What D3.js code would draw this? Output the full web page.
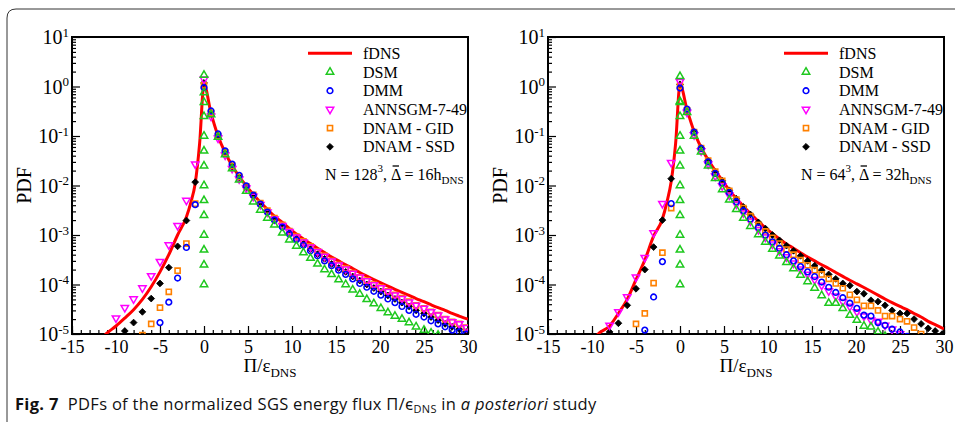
<!DOCTYPE html>
<html><head><meta charset="utf-8">
<script src="https://cdn.jsdelivr.net/npm/d3@7"></script>
<style>body{margin:0;background:#fff}svg{display:block}text{white-space:pre}</style>
</head><body>
<svg id="c" width="955" height="422"></svg>
<script>
// ---------- DATA ----------
const xNeg = [-1,-2,-3,-4,-5,-6,-7,-8,-9,-10];
const xPos = [0,0.8,1.6,2.4,3.2,4.0,4.8,5.6,6.4,7.2,8.0,8.9,9.7,10.5,11.3,12.1,12.9,13.7,14.5,15.3,16.1,16.9,17.7,18.5,19.3,20.1,20.9,21.7,22.5,23.3,24.1,25.0,25.8,26.6,27.4,28.2,29.0,29.8];
const xTicks = [-15,-10,-5,0,5,10,15,20,25,30];
const yTicks = [1e-5,1e-4,1e-3,1e-2,1e-1,1,10];
const legendLabels = ["fDNS","DSM","DMM","ANNSGM-7-49","DNAM - GID","DNAM - SSD"];

// Panel A: N=128^3
const fdnsA_x = [-12,-11,-10,-9,-8,-7,-6,-5,-4,-3,-2,-1.5,-1,-0.5,0,0.8,1.6,2.4,3.2,4.0,4.8,5.6,6.4,7.2,8.0,8.9,9.7,10.5,11.3,12.1,12.9,13.7,14.5,15.3,16.1,16.9,17.7,18.5,19.3,20.1,20.9,21.7,22.5,23.3,24.1,25.0,25.8,26.6,27.4,28.2,29.0,29.8,30];
const fdnsA_y = [7e-6,1.05e-5,1.45e-5,2.1e-5,3.1e-5,5.0e-5,9.0e-5,1.8e-4,4.0e-4,1.0e-3,2.3e-3,4.5e-3,0.011,0.07,1.1,0.29,0.10,0.046,0.025,0.0152,0.0098,0.0066,0.0046,0.0033,0.0024,0.0018,0.00135,1.05e-3,8.3e-4,6.7e-4,5.4e-4,4.4e-4,3.6e-4,3.0e-4,2.5e-4,2.1e-4,1.75e-4,1.48e-4,1.26e-4,1.08e-4,9.3e-5,8.0e-5,6.9e-5,6.0e-5,5.2e-5,4.5e-5,3.9e-5,3.4e-5,3.0e-5,2.6e-5,2.3e-5,2.05e-5,2.0e-5];
const dsmA_zero = [1.7,0.75,0.48,0.25,0.1,0.05,0.025,0.01,0.005,0.0025,0.001,5e-4,2.5e-4,1e-4];
const dsmA_pos = [null,0.27,0.095,0.042,0.022,0.013,0.0077,0.0047,0.0032,0.0022,0.0016,0.0011,8.0e-4,6.0e-4,4.4e-4,3.4e-4,2.6e-4,2.0e-4,1.6e-4,1.25e-4,1.0e-4,7.8e-5,6.4e-5,5.0e-5,4.1e-5,3.3e-5,2.7e-5,2.3e-5,2.0e-5,1.7e-5,1.4e-5,1.2e-5,1.05e-5,9.5e-6,null,null,null,null];
const dmmA_neg = [0.0041,5.6e-4,1.35e-4,4.4e-5,1.7e-5,null,null,null,null,null];
const dmmA_pos = [0.95,0.32,0.11,0.05,0.027,0.016,0.0098,0.0064,0.0042,0.0029,0.0020,0.00145,0.00105,8.0e-4,6.2e-4,4.8e-4,3.8e-4,3.0e-4,2.4e-4,1.95e-4,1.6e-4,1.3e-4,1.05e-4,8.8e-5,7.3e-5,6.1e-5,5.1e-5,4.3e-5,3.6e-5,3.0e-5,2.5e-5,2.2e-5,1.85e-5,1.6e-5,1.4e-5,1.2e-5,1.1e-5,1.0e-5];
const annA_neg = [0.027,0.005,0.00155,6.3e-4,2.9e-4,1.5e-4,8.5e-5,5.1e-5,3.4e-5,2.1e-5];
const annA_pos = [1.4,0.25,0.09,0.041,0.022,0.0135,0.0088,0.006,0.0041,0.0029,0.0021,0.00155,0.00117,9.0e-4,7.2e-4,5.7e-4,4.6e-4,3.7e-4,2.95e-4,2.45e-4,2.05e-4,1.68e-4,1.4e-4,1.18e-4,9.8e-5,8.5e-5,7.2e-5,6.1e-5,5.2e-5,4.4e-5,3.8e-5,3.3e-5,2.8e-5,2.4e-5,2.0e-5,1.75e-5,1.6e-5,1.35e-5];
const gidA_neg = [0.0043,6.7e-4,1.9e-4,7.1e-5,3.4e-5,1.6e-5,9.5e-6,null,null,null];
const gidA_pos = [1.05,0.29,0.10,0.046,0.025,0.015,0.0096,0.0065,0.0044,0.0031,0.0022,0.0016,0.0012,9.3e-4,7.4e-4,5.9e-4,4.7e-4,3.8e-4,3.0e-4,2.5e-4,2.1e-4,1.7e-4,1.4e-4,1.2e-4,1.0e-4,8.7e-5,7.3e-5,6.2e-5,5.3e-5,4.5e-5,3.8e-5,3.3e-5,2.8e-5,2.4e-5,2.0e-5,1.75e-5,1.6e-5,1.35e-5];
const ssdA_neg = [0.0117,0.00196,5.9e-4,2.2e-4,1.05e-4,5.2e-5,2.8e-5,1.7e-5,1.15e-5,null];
const ssdA_pos = [1.18,0.28,0.10,0.045,0.024,0.0145,0.0092,0.0062,0.0042,0.0029,0.0021,0.0015,0.0011,8.4e-4,6.6e-4,5.2e-4,4.1e-4,3.3e-4,2.6e-4,2.15e-4,1.8e-4,1.45e-4,1.2e-4,1.0e-4,8.5e-5,7.2e-5,6.0e-5,5.1e-5,4.3e-5,3.6e-5,3.0e-5,2.6e-5,2.2e-5,1.9e-5,1.6e-5,1.4e-5,1.25e-5,1.1e-5];

// Panel B: N=64^3
const fdnsB_x = [-10,-9.3,-8,-7,-6,-5,-4,-3,-2,-1.5,-1,-0.5,0,0.8,1.6,2.4,3.2,4.0,4.8,5.6,6.4,7.2,8.0,8.9,9.7,10.5,11.3,12.1,12.9,13.7,14.5,15.3,16.1,16.9,17.7,18.5,19.3,20.1,20.9,21.7,22.5,23.3,24.1,25.0,25.8,26.6,27.4,28.2,29.0,29.8,30];
const fdnsB_y = [7e-6,1.0e-5,1.45e-5,2.6e-5,5.0e-5,1.25e-4,3.1e-4,9.5e-4,2.1e-3,4.5e-3,0.012,0.07,1.1,0.34,0.123,0.058,0.033,0.020,0.0128,0.008,0.0055,0.0038,0.0027,0.0019,0.0014,1.07e-3,8.3e-4,6.6e-4,5.4e-4,4.4e-4,3.6e-4,3.0e-4,2.5e-4,2.1e-4,1.75e-4,1.46e-4,1.22e-4,1.03e-4,8.7e-5,7.3e-5,6.1e-5,5.1e-5,4.3e-5,3.6e-5,3.1e-5,2.6e-5,2.2e-5,1.8e-5,1.55e-5,1.32e-5,1.27e-5];
const dsmB_zero = [1.6,0.5,0.48,0.25,0.1,0.05,0.025,0.01,0.005,0.0025,0.001,5e-4,2.5e-4,1e-4];
const dsmB_pos = [null,0.3,0.1,0.048,0.025,0.014,0.0083,0.0051,0.0033,0.0022,0.0015,0.00102,7.2e-4,5.2e-4,3.8e-4,2.8e-4,2.1e-4,1.55e-4,1.15e-4,8.5e-5,6.0e-5,4.2e-5,4.2e-5,3.3e-5,2.4e-5,1.9e-5,1.45e-5,1.4e-5,1.1e-5,9e-6,null,null,null,null,null,null,null,null];
const dmmB_neg = [0.0043,2.9e-4,5.6e-5,1.2e-5,null,null,null,null,null,null];
const dmmB_pos = [0.93,0.35,0.12,0.056,0.03,0.0175,0.0112,0.0072,0.0047,0.0031,0.0021,0.00142,0.00100,7.3e-4,5.4e-4,4.0e-4,3.0e-4,2.3e-4,1.8e-4,1.45e-4,1.12e-4,8.8e-5,6.9e-5,5.4e-5,4.2e-5,3.3e-5,2.4e-5,2.3e-5,1.7e-5,1.5e-5,1.25e-5,1.1e-5,9e-6,null,null,null,null,null];
const annB_neg = [0.029,0.0043,1.1e-3,3.5e-4,1.4e-4,5.6e-5,2.8e-5,1.5e-5,null,null];
const annB_pos = [1.26,0.3,0.105,0.05,0.027,0.0155,0.0098,0.0064,0.0042,0.0028,0.0019,0.00128,9.0e-4,6.5e-4,4.8e-4,3.6e-4,2.7e-4,2.05e-4,1.6e-4,1.25e-4,9.6e-5,7.4e-5,5.8e-5,4.5e-5,3.6e-5,2.8e-5,2.3e-5,1.9e-5,1.8e-5,1.5e-5,1.25e-5,1.0e-5,null,null,null,null,null,null];
const gidB_neg = [0.0035,4.4e-4,1.07e-4,2.6e-5,1.6e-5,null,null,null,null,null];
const gidB_pos = [1.03,0.33,0.12,0.057,0.032,0.019,0.0124,0.0078,0.0052,0.0035,0.0024,0.0016,0.00118,8.8e-4,6.7e-4,5.1e-4,4.0e-4,3.1e-4,2.45e-4,1.95e-4,1.6e-4,1.3e-4,1.05e-4,8.4e-5,6.2e-5,4.9e-5,3.7e-5,3.7e-5,3.0e-5,2.3e-5,2.3e-5,2.0e-5,1.8e-5,1.35e-5,1.0e-5,null,null,null];
const ssdB_neg = [0.0137,0.002,5.7e-4,2.0e-4,8.2e-5,3.8e-5,1.65e-5,1.1e-5,null,null];
const ssdB_pos = [1.1,0.32,0.12,0.057,0.032,0.019,0.0125,0.008,0.0054,0.0037,0.0026,0.0018,0.00135,1.0e-3,7.8e-4,6.1e-4,4.8e-4,3.8e-4,3.0e-4,2.4e-4,1.95e-4,1.6e-4,1.3e-4,1.05e-4,9.5e-5,7.2e-5,6.5e-5,4.8e-5,4.5e-5,3.8e-5,3.0e-5,2.6e-5,2.6e-5,2.0e-5,1.6e-5,1.3e-5,1.15e-5,1.0e-5];

// ---------- LAYOUT / STYLE ----------
const plotTop = 37, plotBottom = 334;
const SERIF = "'Liberation Serif','Times New Roman',serif";
const colors = {fdns:"#ff0000", dsm:"#1ec81e", dmm:"#0000ff", ann:"#ff00ff", gid:"#ff8000", ssd:"#000000"};

const panels = [
  {left:72, right:468, N:"128", D:"16", fx:fdnsA_x, fy:fdnsA_y, dsmZero:dsmA_zero, dsm:dsmA_pos,
   dmm:[dmmA_neg,dmmA_pos], ann:[annA_neg,annA_pos], gid:[gidA_neg,gidA_pos], ssd:[ssdA_neg,ssdA_pos]},
  {left:548, right:944, N:"64", D:"32", fx:fdnsB_x, fy:fdnsB_y, dsmZero:dsmB_zero, dsm:dsmB_pos,
   dmm:[dmmB_neg,dmmB_pos], ann:[annB_neg,annB_pos], gid:[gidB_neg,gidB_pos], ssd:[ssdB_neg,ssdB_pos]}
];

const svg = d3.select("#c");

// outer frame
svg.append("path").attr("d","M7,430 L7,18 Q7,9 16,9 L960,9")
  .attr("fill","none").attr("stroke","#333").attr("stroke-width",1);

function pts(neg,pos){
  const out=[];
  neg.forEach((v,i)=>{ if(v!=null) out.push({x:xNeg[i],y:v}); });
  pos.forEach((v,i)=>{ if(v!=null) out.push({x:xPos[i],y:v}); });
  return out;
}

const symGen = {
  tri: d3.symbol().type(d3.symbolTriangle).size(24),
  circ: d3.symbol().type(d3.symbolCircle).size(25),
  sq: d3.symbol().type(d3.symbolSquare).size(26),
  dia: d3.symbol().type(d3.symbolSquare).size(23)
};
function drawMarker(sel, kind, color){
  if(kind==="triUp") sel.append("path").attr("d",symGen.tri()).attr("fill","none").attr("stroke",color).attr("stroke-width",1.5);
  else if(kind==="triDown") sel.append("path").attr("d",symGen.tri()).attr("transform","rotate(180)").attr("fill","none").attr("stroke",color).attr("stroke-width",1.5);
  else if(kind==="circ") sel.append("path").attr("d",symGen.circ()).attr("fill","none").attr("stroke",color).attr("stroke-width",1.6);
  else if(kind==="sq") sel.append("path").attr("d",symGen.sq()).attr("fill","none").attr("stroke",color).attr("stroke-width",1.6);
  else if(kind==="dia") sel.append("path").attr("d",symGen.dia()).attr("transform","rotate(45)").attr("fill",color).attr("stroke",color).attr("stroke-width",0.8);
}

panels.forEach((p,pi)=>{
  const x = d3.scaleLinear().domain([-15,30]).range([p.left,p.right]);
  const y = d3.scaleLog().domain([1e-5,10]).range([plotBottom,plotTop]);
  const g = svg.append("g");

  const clipId = "clip"+pi;
  svg.append("clipPath").attr("id",clipId).append("rect")
    .attr("x",p.left).attr("y",plotTop).attr("width",p.right-p.left).attr("height",plotBottom-plotTop);

  // axes: minor ticks
  const xMinor = d3.range(-15,31,1);
  const gxm = g.append("g").attr("transform",`translate(0,${plotBottom})`)
    .call(d3.axisBottom(x).tickValues(xMinor).tickSize(-4).tickSizeOuter(0).tickFormat(""));
  gxm.select(".domain").remove();
  const gx = g.append("g").attr("transform",`translate(0,${plotBottom})`)
    .call(d3.axisBottom(x).tickValues(xTicks).tickSize(-8).tickSizeOuter(0).tickPadding(6).tickFormat(d=>String(d)));
  gx.select(".domain").remove();
  gx.selectAll("text").attr("font-family",SERIF).attr("font-size",18).attr("fill","#000");

  const yMinor=[];
  for(let e=-5;e<1;e++) for(let m=2;m<10;m++) yMinor.push(m*Math.pow(10,e));
  const gym = g.append("g").attr("transform",`translate(${p.left},0)`)
    .call(d3.axisLeft(y).tickValues(yMinor).tickSize(-4).tickSizeOuter(0).tickFormat(""));
  gym.select(".domain").remove();
  const gy = g.append("g").attr("transform",`translate(${p.left},0)`)
    .call(d3.axisLeft(y).tickValues(yTicks).tickSize(-8).tickSizeOuter(0).tickPadding(3).tickFormat(""));
  gy.select(".domain").remove();
  gy.selectAll(".tick text").each(function(d){
    const e = Math.round(Math.log10(d));
    const t = d3.select(this).attr("font-family",SERIF).attr("font-size",20).attr("fill","#000").attr("dy","0.33em");
    t.text(null);
    t.append("tspan").text("10");
    t.append("tspan").attr("dy","-0.55em").attr("font-size",13).text(String(e));
  });
  g.selectAll(".tick line").attr("stroke","#000").attr("stroke-width",1.2);

  // frame
  g.append("rect").attr("x",p.left).attr("y",plotTop).attr("width",p.right-p.left).attr("height",plotBottom-plotTop)
    .attr("fill","none").attr("stroke","#000").attr("stroke-width",2);

  // titles
  const xt = g.append("text").attr("x",(p.left+p.right)/2).attr("y",372).attr("text-anchor","middle")
    .attr("font-family",SERIF).attr("font-size",19);
  xt.append("tspan").text("Π/ε");
  xt.append("tspan").attr("dy",5).attr("font-size",13).text("DNS");
  g.append("text").attr("transform",`translate(${p.left-41},${(plotTop+plotBottom)/2}) rotate(-90)`)
    .attr("text-anchor","middle").attr("font-family",SERIF).attr("font-size",20).text("PDF");

  // data
  const plot = g.append("g").attr("clip-path",`url(#${clipId})`);
  const lineData = p.fx.map((v,i)=>({x:v,y:p.fy[i]}));
  plot.append("path").datum(lineData)
    .attr("d", d3.line().x(d=>x(d.x)).y(d=>y(d.y)).curve(d3.curveMonotoneX))
    .attr("fill","none").attr("stroke",colors.fdns).attr("stroke-width",3);

  const series = [
    {data:pts(p.ssd[0],p.ssd[1]), kind:"dia", color:colors.ssd},
    {data:pts(p.gid[0],p.gid[1]), kind:"sq", color:colors.gid},
    {data:pts(p.ann[0],p.ann[1]), kind:"triDown", color:colors.ann},
    {data:pts(p.dmm[0],p.dmm[1]), kind:"circ", color:colors.dmm},
    {data:p.dsmZero.map(v=>({x:0,y:v})).concat(pts([],p.dsm)), kind:"triUp", color:colors.dsm}
  ];
  series.forEach(s=>{
    plot.append("g").selectAll("g").data(s.data).join("g")
      .attr("transform",d=>`translate(${x(d.x)},${y(d.y)})`)
      .each(function(){ drawMarker(d3.select(this), s.kind, s.color); });
  });

  // legend
  const lg = g.append("g");
  const kinds = [null,"triUp","circ","triDown","sq","dia"];
  const kcol = [colors.fdns,colors.dsm,colors.dmm,colors.ann,colors.gid,colors.ssd];
  legendLabels.forEach((lab,i)=>{
    const yy = 53.3 + i*18.7;
    if(i===0){
      lg.append("line").attr("x1",p.left+236).attr("x2",p.left+280).attr("y1",yy).attr("y2",yy)
        .attr("stroke",colors.fdns).attr("stroke-width",3);
    } else {
      const m = lg.append("g").attr("transform",`translate(${p.left+258},${yy})`);
      drawMarker(m, kinds[i], kcol[i]);
    }
    lg.append("text").attr("x",p.left+291).attr("y",yy).attr("dy","0.35em")
      .attr("font-family",SERIF).attr("font-size",16).text(lab);
  });

  // annotation
  const an = g.append("text").attr("x",p.left+253).attr("y",180).attr("font-family",SERIF).attr("font-size",16);
  an.append("tspan").text("N = "+p.N);
  an.append("tspan").attr("dy",-8).attr("font-size",11).text("3");
  an.append("tspan").attr("dy",8).text(", ");
  an.append("tspan").text("Δ");
  an.append("tspan").text(" = "+p.D+"h");
  an.append("tspan").attr("dy",4).attr("font-size",11).text("DNS");
  const idx = ("N = "+p.N+"3, ").length;
  const ext = an.node().getExtentOfChar(idx);
  g.append("line").attr("x1",ext.x+1.5).attr("x2",ext.x+ext.width-1.5)
    .attr("y1",180-14).attr("y2",180-14).attr("stroke","#000").attr("stroke-width",1.3);
});

// caption
const cap = svg.append("text").attr("x",15).attr("y",410)
  .attr("font-family","'Open Sans','Noto Sans',sans-serif").attr("font-size",16.5)
  .attr("letter-spacing",0.3).attr("fill","#111");
cap.append("tspan").attr("font-weight","bold").text("Fig. 7");
cap.append("tspan").text("  PDFs of the normalized SGS energy flux Π/ϵ");
cap.append("tspan").attr("dy",3).attr("font-size",11).text("DNS");
cap.append("tspan").attr("dy",-3).text(" in ");
cap.append("tspan").attr("font-style","italic").text("a posteriori");
cap.append("tspan").text(" study");
</script>
</body></html>
